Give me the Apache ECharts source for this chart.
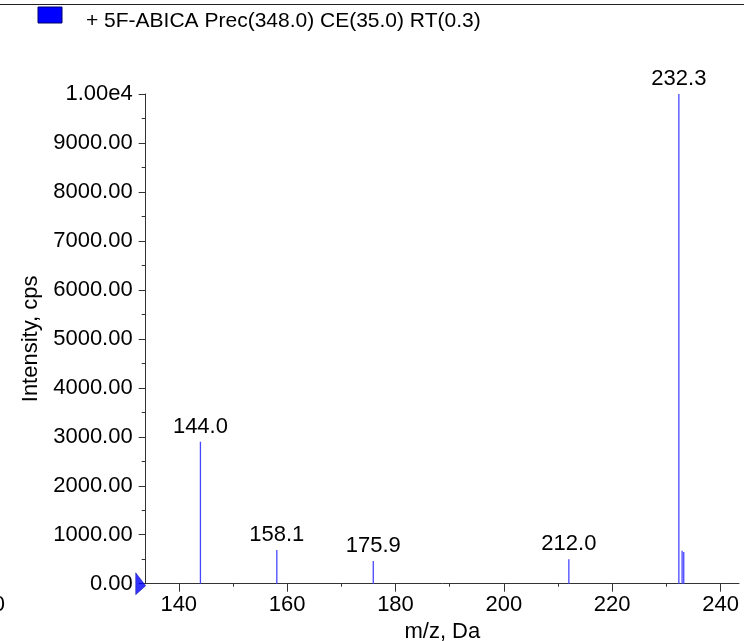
<!DOCTYPE html>
<html>
<head>
<meta charset="utf-8">
<script src="https://cdn.jsdelivr.net/npm/echarts@6/dist/echarts.min.js"></script>
<style>html,body{margin:0;padding:0;background:#fff}#c{width:744px;height:641px}</style>
</head>
<body>
<div id="c"></div>
<script>
const titleText = '+ 5F-ABICA Prec(348.0) CE(35.0) RT(0.3)';
const peakMz = [144.0, 158.1, 175.9, 212.0, 232.3, 232.9, 233.2];
const peakIntensity = [2900, 690, 465, 500, 10000, 674, 648];
const peakLabels = ['144.0', '158.1', '175.9', '212.0', '232.3', '', ''];
const xMajorTicks = [140, 160, 180, 200, 220, 240];
const xMinorTicks = [150, 170, 190, 210, 230];
const xMin = 133.9, xMax = 243.4;
const yMin = 0, yMax = 10000, yInterval = 1000;

const FONT = '"Liberation Sans", Arial, sans-serif';
const FS = 22;
const chart = echarts.init(document.getElementById('c'));
const axisColor = '#333';

chart.setOption({
  animation: false,
  backgroundColor: '#fff',
  grid: { left: 145.7, right: 5, top: 94, bottom: 57.3, containLabel: false, outerBoundsMode: 'none' },
  xAxis: [{
    type: 'value', min: xMin, max: xMax,
    name: 'm/z, Da', nameLocation: 'middle', nameGap: 36,
    nameTextStyle: { color: '#000', fontSize: FS, fontFamily: FONT },
    axisLine: { show: true, lineStyle: { color: axisColor, width: 1 } },
    axisTick: { show: true, length: 8, inside: false, customValues: xMajorTicks, lineStyle: { color: axisColor } },
    axisLabel: { show: true, customValues: xMajorTicks, color: '#000', fontSize: FS, fontFamily: FONT, margin: 10 },
    splitLine: { show: false }
  }, {
    type: 'value', min: xMin, max: xMax, position: 'bottom',
    axisLine: { show: false },
    axisTick: { show: true, length: 3, customValues: xMinorTicks, lineStyle: { color: axisColor } },
    axisLabel: { show: false },
    splitLine: { show: false }
  }],
  yAxis: {
    type: 'value', min: yMin, max: yMax, interval: yInterval,
    name: 'Intensity, cps', nameLocation: 'middle', nameGap: 104,
    nameTextStyle: { color: '#000', fontSize: FS, fontFamily: FONT },
    axisLine: { show: true, lineStyle: { color: axisColor, width: 1 } },
    axisTick: { show: true, length: 7, lineStyle: { color: axisColor } },
    minorTick: { show: true, splitNumber: 2, length: 4, lineStyle: { color: axisColor } },
    axisLabel: {
      color: '#000', fontSize: FS, fontFamily: FONT, margin: 13,
      formatter: v => v === 10000 ? '1.00e4' : v.toFixed(2)
    },
    splitLine: { show: false }
  },
  series: [{
    type: 'bar',
    barWidth: 1.3,
    itemStyle: { color: '#4646ff' },
    label: {
      show: true, position: 'top', distance: 4, color: '#000', fontSize: FS, fontFamily: FONT,
      formatter: p => peakLabels[p.dataIndex]
    },
    data: peakMz.map((m, i) => [m, peakIntensity[i]])
  }, {
    type: 'scatter',
    clip: false,
    symbol: 'path://M0,0 L10,13 L0,22 Z',
    symbolSize: [10, 22],
    symbolOffset: [-5, 0],
    itemStyle: { color: '#0000ff', borderColor: '#000080', borderWidth: 0.5 },
    data: [[xMin, 0]],
    z: 5
  }],
  graphic: [
    { type: 'line', shape: { x1: 0, y1: 4.5, x2: 744, y2: 4.5 }, style: { stroke: '#222', lineWidth: 1 } },
    { type: 'rect', shape: { x: 38, y: 7, width: 24, height: 16 }, style: { fill: '#0000ff', stroke: '#00006a', lineWidth: 1 } },
    { type: 'text', x: 86, y: 21, style: { text: titleText, fill: '#000', fontSize: 21, fontFamily: FONT, verticalAlign: 'middle' } },
    { type: 'text', x: 5, y: 605, style: { text: '0', fill: '#000', fontSize: FS, fontFamily: FONT, align: 'right', verticalAlign: 'middle' } }
  ]
});
</script>
</body>
</html>
